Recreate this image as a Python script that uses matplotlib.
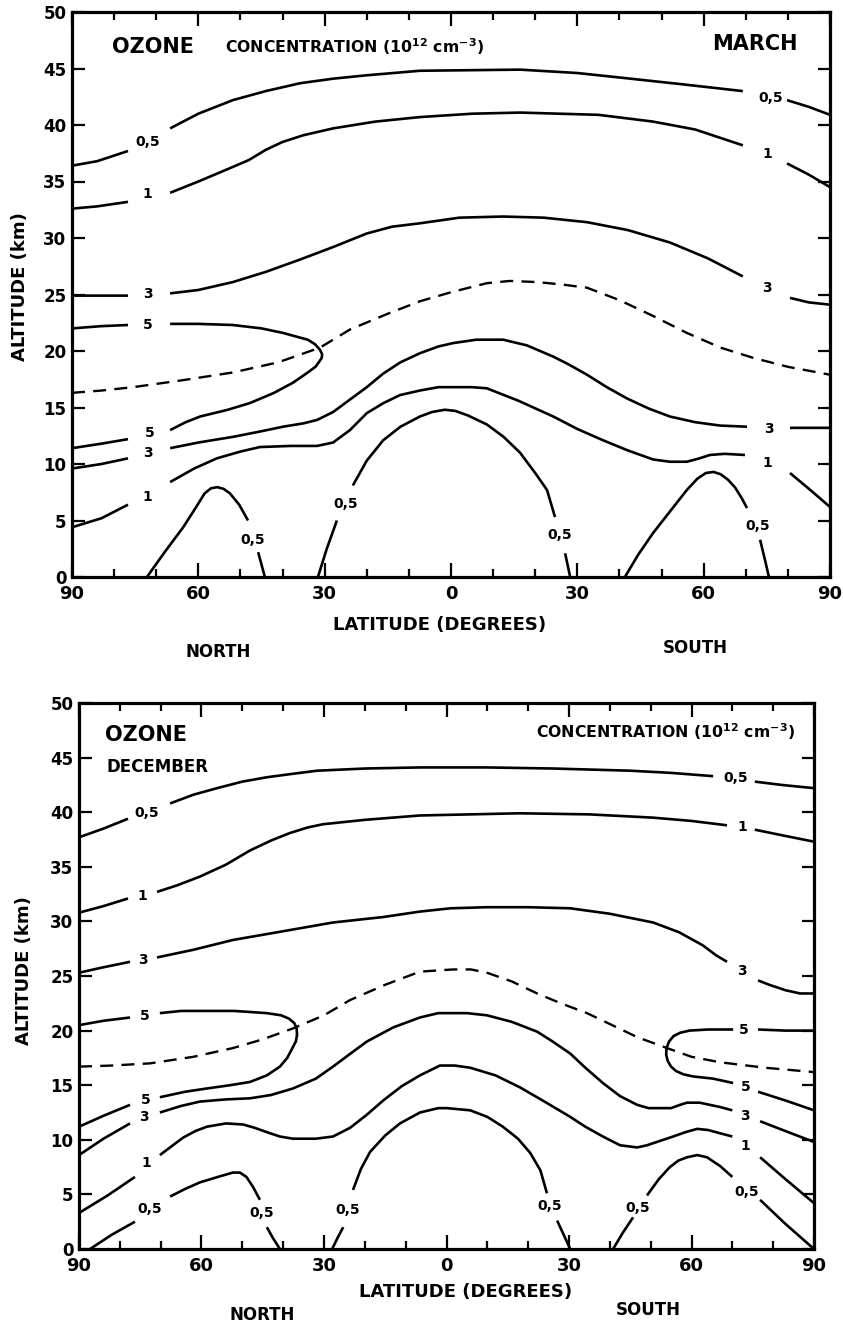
import numpy as np
import matplotlib.pyplot as plt
from matplotlib.ticker import FixedLocator

# Ozone concentration isolines (10^12 cm^-3), altitude (km) vs latitude.
# Latitude is signed: north positive, south negative.
# NaN marks the gap in a line where its value label sits.
NAN = np.nan

# ------------------------------------------------------------------ MARCH
mar_05_top_lat = [90, 84, 76.7, NAN, 66.7, 60, 51.8, 44, 35.8, 28, 20, 7.4, -16.4, -30, -40.1, -55, -69.3,
                  NAN, -79.8, -85, -90]
mar_05_top_alt = [36.4, 36.8, 37.7, NAN, 39.7, 41.0, 42.2, 43.0, 43.7, 44.1, 44.4, 44.8, 44.9, 44.6, 44.2,
                  43.6, 43.0, NAN, 42.2, 41.6, 40.9]

mar_1_top_lat = [90, 84, 76.7, NAN, 66.7, 60, 53, 48, 44, 40, 35, 28, 18, 7.4, -5, -16.4, -35, -48, -58,
                 -69.3, NAN, -79.8, -85, -90]
mar_1_top_alt = [32.6, 32.8, 33.2, NAN, 34.0, 35.0, 36.1, 36.9, 37.8, 38.5, 39.1, 39.7, 40.3, 40.7, 41.0,
                 41.1, 40.9, 40.3, 39.6, 38.2, NAN, 36.6, 35.6, 34.5]

mar_3_top_lat = [90, 76.7, NAN, 66.7, 60, 51.8, 44, 35.8, 28, 20, 14, 7.4, -2, -12.4, -22, -32.3, -42, -52,
                 -61, -69.3, NAN, -80.5, -85, -90]
mar_3_top_alt = [24.9, 24.9, NAN, 25.1, 25.4, 26.1, 27.0, 28.1, 29.2, 30.4, 31.0, 31.3, 31.8, 31.9, 31.8, 31.4,
                 30.7, 29.6, 28.2, 26.6, NAN, 24.7, 24.3, 24.1]

mar_5_loop_lat = [90, 83, 76.7, NAN, 66.7, 60, 51.8, 45, 39.9, 36, 34, 32.3, 31.1, 30.6, 30.7, 31.2, 32.2,
                  34, 37.5, 42, 47.7, 53, 59.6, 63, 66.7, NAN, 76.7, 83, 90]
mar_5_loop_alt = [22.0, 22.2, 22.3, NAN, 22.4, 22.4, 22.3, 22.0, 21.6, 21.2, 21.0, 20.6, 20.1, 19.7, 19.4,
                  19.1, 18.6, 18.1, 17.2, 16.3, 15.4, 14.8, 14.2, 13.7, 13.0, NAN, 12.2, 11.8, 11.4]

mar_3_low_lat = [90, 83, 76.7, NAN, 66.7, 60, 51.8, 45, 39.9, 35, 31.8, 28, 24, 20, 16.1, 12, 7.4, 3, -0.5,
                 -6, -12.4, -18, -24.3, -28, -32.3, -37, -41.8, -47, -52, -58, -63.9, -70.3,
                 NAN, -80.5, -90]
mar_3_low_alt = [9.6, 10.0, 10.5, NAN, 11.4, 11.9, 12.4, 12.9, 13.3, 13.6, 13.9, 14.6, 15.7, 16.8, 18.0,
                 19.0, 19.8, 20.4, 20.7, 21.0, 21.0, 20.5, 19.5, 18.8, 17.9, 16.8, 15.8, 14.9, 14.2, 13.7,
                 13.4, 13.3, NAN, 13.2, 13.2]

mar_1_low_lat = [90, 83, 76.7, NAN, 66.7, 61, 55.6, 50, 45.4, 38, 31.8, 28, 24, 20, 16, 12.1, 7.4, 3, -0.5,
                 -5, -8.5, -16, -24.3, -30, -36.1, -42, -48, -52, -56, -59, -61.5, -65, -69.8,
                 NAN, -80.5, -85, -90]
mar_1_low_alt = [4.4, 5.2, 6.4, NAN, 8.4, 9.6, 10.5, 11.1, 11.5, 11.6, 11.6, 11.9, 13.0, 14.5, 15.4, 16.1,
                 16.5, 16.8, 16.8, 16.8, 16.7, 15.6, 14.2, 13.1, 12.1, 11.2, 10.4, 10.2, 10.2, 10.5, 10.8,
                 10.9, 10.8, NAN, 9.2, 7.8, 6.2]

mar_05_mid_lat = [31.6, 29.5, 27.1, NAN, 23.3, 20, 16.1, 12, 7.4, 4.5, 1.5, -1, -4, -8.5, -12.5, -16.4, -20,
                  -22.8, -24.7, NAN, -27.1, -28.3]
mar_05_mid_alt = [0, 2.5, 5.0, NAN, 8.1, 10.3, 12.1, 13.3, 14.2, 14.6, 14.8, 14.7, 14.3, 13.5, 12.4, 11.0,
                  9.2, 7.7, 5.3, NAN, 2.1, 0]

mar_05_north_lat = [72.2, 68, 63.6, 60.5, 58.5, 57, 55.5, 54, 52.5, 50.3, 48.2, NAN, 45.8, 44.2]
mar_05_north_alt = [0, 2.2, 4.4, 6.2, 7.4, 7.85, 7.95, 7.8, 7.4, 6.4, 5.0, NAN, 2.2, 0]

mar_05_south_lat = [-41.3, -44.5, -48, -52, -56, -58.5, -60.5, -62.3, -64, -65.8, -67.5, -69, -70.3, NAN,
                    -73.4, -74.5, -75.5]
mar_05_south_alt = [0, 2.0, 3.9, 5.8, 7.7, 8.7, 9.2, 9.3, 9.1, 8.6, 7.9, 7.0, 6.1, NAN, 3.3, 1.6, 0]

mar_dash_lat = [90, 83, 75.5, 64, 51.8, 41, 31.1, 24, 15, 7.4, 0, -8.5, -14, -20.4, -26, -32.3, -40, -48,
                -56, -64, -71.7, -80, -90]
mar_dash_alt = [16.3, 16.5, 16.8, 17.4, 18.1, 19.0, 20.3, 21.9, 23.3, 24.4, 25.2, 26.0, 26.2, 26.1, 25.9,
                25.6, 24.5, 23.1, 21.6, 20.3, 19.4, 18.6, 17.9]

mar_label_text = ['0,5', '0,5', '1', '1', '3', '3', '5', '5', '3', '3', '1', '1',
                  '0,5', '0,5', '0,5', '0,5']
mar_label_lat = [72, -75.8, 72, -75, 72, -75, 72, 71.5, 72, -75.5, 72, -75.2,
                 25, -25.9, 47, -72.9]
mar_label_alt = [38.5, 42.4, 33.9, 37.4, 25.0, 25.6, 22.3, 12.7, 11.0, 13.1, 7.1, 10.1,
                 6.5, 3.7, 3.3, 4.5]

# --------------------------------------------------------------- DECEMBER
dec_05_top_lat = [90, 84, 78, NAN, 67.7, 62, 56.2, 50, 44, 38, 31.7, 20, 6.5, -10, -26.1, -45, -55, -65.3,
                  NAN, -75.5, -82, -90]
dec_05_top_alt = [37.7, 38.5, 39.4, NAN, 40.8, 41.6, 42.2, 42.8, 43.2, 43.5, 43.8, 44.0, 44.1, 44.1, 44.0,
                  43.8, 43.6, 43.3, NAN, 42.8, 42.5, 42.2]

dec_1_top_lat = [90, 84, 78, NAN, 70.9, 66, 60.4, 54, 48.1, 43, 38.3, 34, 30.2, 20, 6.5, -18, -35, -50.6,
                 -60, -68.7, NAN, -75.5, -82, -90]
dec_1_top_alt = [30.8, 31.4, 32.1, NAN, 32.7, 33.3, 34.1, 35.2, 36.5, 37.4, 38.1, 38.6, 38.9, 39.3, 39.7,
                 39.9, 39.8, 39.5, 39.2, 38.8, NAN, 38.4, 37.9, 37.3]

dec_3_top_lat = [90, 84, 77.5, NAN, 70.9, 62, 52.3, 40, 27.8, 15.5, 6.5, -1, -9.9, -20, -30.3, -40, -50.6,
                 -57, -62.8, -66, -68.7, NAN, -76.3, -79, -83, -86.6, -90]
dec_3_top_alt = [25.3, 25.8, 26.3, NAN, 26.7, 27.4, 28.3, 29.1, 29.9, 30.4, 30.9, 31.2, 31.3, 31.3, 31.2,
                 30.7, 29.9, 29.0, 27.8, 26.9, 26.3, NAN, 24.6, 24.2, 23.7, 23.4, 23.4]

dec_5_north_lat = [90, 84, 77.5, NAN, 70.2, 65, 60.4, 52, 44, 40.5, 38.6, 37.3, 36.7, 36.6, 36.9, 37.6, 39,
                   40.8, 44, 48.1, 53, 58.7, 64, 70.2, NAN, 77.5, 84, 90]
dec_5_north_alt = [20.5, 20.9, 21.2, NAN, 21.6, 21.8, 21.8, 21.8, 21.6, 21.4, 21.1, 20.7, 20.2, 19.6, 19.0,
                   18.5, 17.5, 16.7, 15.9, 15.3, 15.0, 14.7, 14.4, 13.9, NAN, 13.2, 12.2, 11.2]

dec_5_south_lat = [-90, -83, -76.3, NAN, -70.2, -64, -59.5, -57.2, -55.6, -54.5, -53.9, -53.8, -54.2,
                   -55, -56.2, -58, -60.4, -65.3, -70.2, NAN, -76.3, -83, -90]
dec_5_south_alt = [20.0, 20.0, 20.1, NAN, 20.1, 20.1, 20.0, 19.8, 19.5, 19.0, 18.4, 17.8, 17.2, 16.7, 16.3,
                   16.0, 15.8, 15.6, 15.2, NAN, 14.4, 13.6, 12.7]

dec_3_low_lat = [90, 84, 77.5, NAN, 70.2, 65, 60.4, 54, 48.1, 43, 37.6, 32, 27.8, 23.5, 19.5, 13, 6.5, 2,
                 -1.6, -5, -9.9, -16, -22.2, -26, -30.3, -34, -38.3, -42.5, -46.7, -49.5, -52.3, -55,
                 -57.2, -58.9, -62, -64.5, -67, -70, NAN, -76.8, -83, -90]
dec_3_low_alt = [8.6, 10.1, 11.5, NAN, 12.5, 13.1, 13.5, 13.7, 13.8, 14.1, 14.7, 15.6, 16.7, 17.9, 19.0,
                 20.3, 21.2, 21.6, 21.6, 21.6, 21.4, 20.8, 19.9, 19.0, 17.9, 16.6, 15.2, 14.0, 13.2, 12.9,
                 12.9, 12.9, 13.2, 13.4, 13.4, 13.2, 13.0, 12.7, NAN, 11.7, 10.8, 9.8]

dec_1_low_lat = [90, 83, 76.3, NAN, 70.2, 67, 64.5, 61.5, 58.7, 54, 49.8, 47, 44, 40.8, 37.6, 32, 27.8,
                 23.6, 19.5, 15.5, 11, 6.5, 1.6, -2, -5.8, -12, -18, -24, -30.3, -34, -38.3, -42.5,
                 -46.7, -49.1, -52.3, -55.5, -58.5, -61.4, -64, -67, -70, NAN, -76.8, -83, -90]
dec_1_low_alt = [3.3, 4.9, 6.6, NAN, 8.6, 9.5, 10.2, 10.8, 11.2, 11.5, 11.4, 11.1, 10.7, 10.3, 10.1, 10.1,
                 10.3, 11.1, 12.3, 13.6, 14.9, 15.9, 16.8, 16.8, 16.6, 15.9, 14.8, 13.5, 12.1, 11.2, 10.3,
                 9.5, 9.3, 9.5, 9.9, 10.3, 10.7, 11.0, 10.9, 10.6, 10.3, NAN, 8.4, 6.4, 4.2]

dec_05_north_lat = [87.3, 82, 76.3, NAN, 67.7, 64, 60.4, 56, 52.3, 50.6, 49, 47.4, 45.7, NAN, 44, 42.5, 40.8]
dec_05_north_alt = [0, 1.3, 2.5, NAN, 4.8, 5.5, 6.1, 6.6, 7.0, 7.0, 6.6, 5.7, 4.5, NAN, 2.0, 1.0, 0]

dec_05_mid_lat = [28, 26.7, 25.3, NAN, 22.9, 21, 18.7, 15, 11.4, 6.5, 2, -0.1, -5.8, -10, -13.8, -17.5,
                  -20.5, -23, -24.6, NAN, -27.1, -28.7, -30.3]
dec_05_mid_alt = [0, 1.0, 2.0, NAN, 5.4, 7.3, 8.9, 10.4, 11.5, 12.5, 12.9, 12.9, 12.7, 12.1, 11.2, 10.1,
                  8.8, 7.2, 5.1, NAN, 2.6, 1.3, 0]

dec_05_south_lat = [-40.8, -43.2, -45.7, NAN, -49.1, -52, -54.7, -56.8, -58.9, -61.4, -63.8, -67, -70,
                    NAN, -76.8, -83, -90]
dec_05_south_alt = [0, 1.5, 2.9, NAN, 4.9, 6.4, 7.5, 8.1, 8.4, 8.6, 8.4, 7.6, 6.6, NAN, 4.5, 2.3, 0]

dec_dash_lat = [90, 82, 72.6, 62, 52.3, 45, 37.6, 30, 23.6, 15, 6.5, -1.6, -6, -9.9, -16, -22.2, -28,
                -34.4, -40, -46.7, -54, -60, -67, -78, -90]
dec_dash_alt = [16.7, 16.8, 17.0, 17.6, 18.4, 19.2, 20.2, 21.4, 22.8, 24.2, 25.4, 25.6, 25.6, 25.3, 24.5,
                23.4, 22.5, 21.6, 20.6, 19.4, 18.4, 17.6, 17.1, 16.6, 16.2]

dec_label_text = ['0,5', '0,5', '1', '1', '3', '3', '5', '5', '5', '5', '3', '3', '1', '1',
                  '0,5', '0,5', '0,5', '0,5', '0,5', '0,5']
dec_label_lat = [73.4, -70.7, 74.5, -72.4, 74.3, -72.4, 74, 73.6, -72.9, -73.4, 74.2, -73.2, 73.4, -73.2,
                 72.7, 45.2, 24.2, -25.2, -46.9, -73.4]
dec_label_alt = [39.9, 43.1, 32.3, 38.6, 26.5, 25.5, 21.3, 13.6, 20.1, 14.8, 12.1, 12.2, 7.9, 9.4,
                 3.7, 3.3, 3.6, 3.9, 3.8, 5.2]

lat_ticks = [90, 60, 30, 0, -30, -60, -90]
lat_tick_labels = ['90', '60', '30', '0', '30', '60', '90']
alt_ticks = [0, 5, 10, 15, 20, 25, 30, 35, 40, 45, 50]

W, H = 843, 1325
FONT = 'DejaVu Sans'


def figpos(x, y):
    # pixel position (from top left) to figure fraction
    return x / W, 1 - y / H


def draw_panel(ax, lines, dash, label_text, label_lat, label_alt):
    for lat, alt in lines:
        ax.plot(lat, alt, color='black', lw=1.9, solid_capstyle='butt', solid_joinstyle='round')
    ax.plot(dash[0], dash[1], color='black', lw=1.7, ls=(0, (5.5, 3.5)))

    for t, x, y in zip(label_text, label_lat, label_alt):
        ax.text(x, y, t, ha='center', va='center', fontsize=10, fontweight='bold', family=FONT)

    ax.set_xlim(90, -90)
    ax.set_ylim(0, 50)

    # Ticks inside on all four sides
    ax.xaxis.set_major_locator(FixedLocator(lat_ticks))
    ax.xaxis.set_minor_locator(FixedLocator(list(range(-90, 91, 10))))
    ax.set_xticklabels(lat_tick_labels)
    ax.set_yticks(alt_ticks)
    ax.tick_params(axis='both', which='both', direction='in', top=True, right=True, width=1.6)
    ax.tick_params(axis='x', which='major', length=10, pad=6)
    ax.tick_params(axis='x', which='minor', length=6)
    ax.tick_params(axis='y', which='major', length=9, pad=4)
    for lab in ax.get_xticklabels():
        lab.set_fontweight('bold')
        lab.set_fontsize(13)
        lab.set_family(FONT)
    for lab in ax.get_yticklabels():
        lab.set_fontweight('bold')
        lab.set_fontsize(12)
        lab.set_family(FONT)
    for s in ax.spines.values():
        s.set_linewidth(2.3)


fig = plt.figure(figsize=(W / 100, H / 100), dpi=100)

# ---- MARCH panel
ax1 = fig.add_axes([72 / W, 1 - 577 / H, (830 - 72) / W, (577 - 12) / H])
draw_panel(ax1,
           [(mar_05_top_lat, mar_05_top_alt), (mar_1_top_lat, mar_1_top_alt),
            (mar_3_top_lat, mar_3_top_alt), (mar_5_loop_lat, mar_5_loop_alt),
            (mar_3_low_lat, mar_3_low_alt), (mar_1_low_lat, mar_1_low_alt),
            (mar_05_mid_lat, mar_05_mid_alt), (mar_05_north_lat, mar_05_north_alt),
            (mar_05_south_lat, mar_05_south_alt)],
           (mar_dash_lat, mar_dash_alt), mar_label_text, mar_label_lat, mar_label_alt)

# ---- DECEMBER panel
ax2 = fig.add_axes([79 / W, 1 - 1249 / H, (814 - 79) / W, (1249 - 703) / H])
draw_panel(ax2,
           [(dec_05_top_lat, dec_05_top_alt), (dec_1_top_lat, dec_1_top_alt),
            (dec_3_top_lat, dec_3_top_alt), (dec_5_north_lat, dec_5_north_alt),
            (dec_5_south_lat, dec_5_south_alt), (dec_3_low_lat, dec_3_low_alt),
            (dec_1_low_lat, dec_1_low_alt), (dec_05_north_lat, dec_05_north_alt),
            (dec_05_mid_lat, dec_05_mid_alt), (dec_05_south_lat, dec_05_south_alt)],
           (dec_dash_lat, dec_dash_alt), dec_label_text, dec_label_lat, dec_label_alt)

conc = r'CONCENTRATION (10$^{\mathbf{12}}$ cm$^{\mathbf{-3}}$)'
bold = dict(fontweight='bold', family=FONT)

# Text inside and around the MARCH panel
fig.text(*figpos(112, 47), 'OZONE', ha='left', va='center', fontsize=15, **bold)
fig.text(*figpos(225, 47), conc, ha='left', va='center', fontsize=11.3, **bold)
fig.text(*figpos(798, 44), 'MARCH', ha='right', va='center', fontsize=15, **bold)
fig.text(*figpos(20, 287), 'ALTITUDE (km)', ha='center', va='center', rotation=90, fontsize=13, **bold)
fig.text(*figpos(440, 625), 'LATITUDE (DEGREES)', ha='center', va='center', fontsize=13, **bold)
fig.text(*figpos(218, 652), 'NORTH', ha='center', va='center', fontsize=12, **bold)
fig.text(*figpos(695, 648), 'SOUTH', ha='center', va='center', fontsize=12, **bold)

# Text inside and around the DECEMBER panel
fig.text(*figpos(105, 735), 'OZONE', ha='left', va='center', fontsize=15, **bold)
fig.text(*figpos(107, 767), 'DECEMBER', ha='left', va='center', fontsize=12, **bold)
fig.text(*figpos(795, 732), conc, ha='right', va='center', fontsize=11.3, **bold)
fig.text(*figpos(24, 971), 'ALTITUDE (km)', ha='center', va='center', rotation=90, fontsize=13, **bold)
fig.text(*figpos(466, 1292), 'LATITUDE (DEGREES)', ha='center', va='center', fontsize=13, **bold)
fig.text(*figpos(262, 1315), 'NORTH', ha='center', va='center', fontsize=12, **bold)
fig.text(*figpos(648, 1310), 'SOUTH', ha='center', va='center', fontsize=12, **bold)

fig.savefig('out.png', dpi=100, facecolor='white')
